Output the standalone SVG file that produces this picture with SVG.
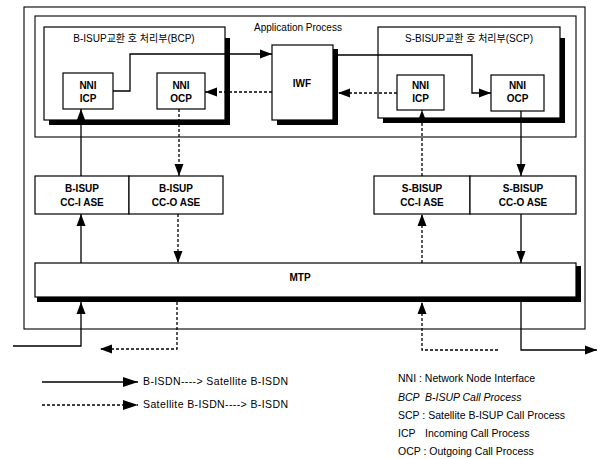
<svg xmlns="http://www.w3.org/2000/svg" width="607" height="459" viewBox="0 0 607 459">
<defs>
<marker id="ah" markerUnits="userSpaceOnUse" markerWidth="12" markerHeight="10" refX="12" refY="5" orient="auto"><path d="M0,0.5 L12,5 L0,9.5 z" fill="#000"/></marker>
<marker id="ahl" markerUnits="userSpaceOnUse" markerWidth="15" markerHeight="10" refX="15" refY="5" orient="auto"><path d="M0,0 L15,5 L0,10 z" fill="#000"/></marker>
</defs>
<style>
.box{fill:#fff;stroke:#000;stroke-width:1.2}
.sh{fill:#000}
.frame{fill:none;stroke:#000;stroke-width:1.1}
.t{font-family:"Liberation Sans","Noto Sans CJK KR",sans-serif;font-size:10px;fill:#000}
.s{font-size:10.5px}
.b{font-weight:bold}
.c{text-anchor:middle}
.i{font-style:italic}
.ln{fill:none;stroke:#000;stroke-width:1.3;marker-end:url(#ah)}
.lg{fill:none;stroke:#000;stroke-width:1.3;marker-end:url(#ahl)}
.d{stroke-dasharray:3,2}
</style>
<rect x="0" y="0" width="607" height="459" fill="#fff"/>
<g id="frames">
<rect class="frame" x="24" y="7" width="561" height="322"/>
<rect class="frame" x="35" y="16" width="541" height="121"/>
<text class="t c" x="298" y="31">Application Process</text>
</g>
<g id="bcp">
<path class="sh" d="M225,38 H230 V125 H49 V120 H225 Z"/>
<rect class="box" x="44" y="27" width="181" height="93"/>
<text class="t c" x="134" y="42">B-ISUP교환 호 처리부(BCP)</text>
</g>
<g id="bcp-icp">
<rect class="box" x="63" y="73" width="50" height="36"/>
<text class="t c b" x="88" y="89">NNI</text>
<text class="t c b" x="88" y="102">ICP</text>
</g>
<g id="bcp-ocp">
<rect class="box" x="157" y="73" width="48" height="36"/>
<text class="t c b" x="181" y="89">NNI</text>
<text class="t c b" x="181" y="102">OCP</text>
</g>
<g id="iwf">
<path class="sh" d="M333,49 H338 V125 H277 V120 H333 Z"/>
<rect class="box" x="272" y="45" width="61" height="75"/>
<text class="t c b" x="302" y="87">IWF</text>
</g>
<g id="scp">
<path class="sh" d="M560,38 H565 V123 H383 V118 H560 Z"/>
<rect class="box" x="378" y="27" width="182" height="91"/>
<text class="t c" x="469" y="42">S-BISUP교환 호 처리부(SCP)</text>
</g>
<g id="scp-icp">
<rect class="box" x="397" y="75" width="47" height="35"/>
<text class="t c b" x="420.5" y="89">NNI</text>
<text class="t c b" x="420.5" y="102">ICP</text>
</g>
<g id="scp-ocp">
<rect class="box" x="491" y="75" width="53" height="36"/>
<text class="t c b" x="517.5" y="89">NNI</text>
<text class="t c b" x="517.5" y="102">OCP</text>
</g>
<g id="b-cci">
<rect class="box" x="35" y="176" width="94" height="38"/>
<text class="t c b" x="82" y="192">B-ISUP</text>
<text class="t c b" x="82" y="206">CC-I ASE</text>
</g>
<g id="b-cco">
<rect class="box" x="129" y="176" width="94" height="38"/>
<text class="t c b" x="176" y="192">B-ISUP</text>
<text class="t c b" x="176" y="206">CC-O ASE</text>
</g>
<g id="s-cci">
<rect class="box" x="374" y="176" width="96" height="38"/>
<text class="t c b" x="422" y="192">S-BISUP</text>
<text class="t c b" x="422" y="206">CC-I ASE</text>
</g>
<g id="s-cco">
<rect class="box" x="470" y="176" width="106" height="38"/>
<text class="t c b" x="523" y="192">S-BISUP</text>
<text class="t c b" x="523" y="206">CC-O ASE</text>
</g>
<g id="mtp">
<path class="sh" d="M576,266 H581 V302 H37 V297 H576 Z"/>
<rect class="box" x="35" y="263" width="541" height="34"/>
<text class="t c b" x="300" y="281">MTP</text>
</g>
<g id="connectors">
<path class="ln" d="M113,91 H130 V54 H272"/>
<path class="ln" d="M338,55 H472 V93 H491"/>
<path class="ln d" d="M397,93 H338"/>
<path class="ln d" d="M272,92 H205"/>
<path class="ln d" d="M179,109 V176"/>
<path class="ln" d="M81,176 V109"/>
<path class="ln d" d="M422,176 V110"/>
<path class="ln" d="M521,111 V176"/>
<path class="ln" d="M81,263 V214"/>
<path class="ln d" d="M178,214 V263"/>
<path class="ln d" d="M422,263 V214"/>
<path class="ln" d="M521,214 V263"/>
<path class="ln" d="M13,346 H81 V302"/>
<path class="ln d" d="M177,302 V349 H100"/>
<path class="ln d" d="M498,350 H422 V302"/>
<path class="ln" d="M521,302 V350 H597"/>
</g>
<g id="legend">
<path class="lg" d="M42,382 H138"/>
<path class="lg d" d="M42,405 H138"/>
<text class="t s" x="143" y="385" textLength="145" lengthAdjust="spacing">B-ISDN----&gt; Satellite B-ISDN</text>
<text class="t s" x="143" y="408" textLength="145" lengthAdjust="spacing">Satellite B-ISDN----&gt; B-ISDN</text>
<text class="t s" x="398" y="382">NNI : Network Node Interface</text>
<text class="t s i" x="398" y="401">BCP<tspan x="425">B-ISUP Call Process</tspan></text>
<text class="t s" x="398" y="419">SCP : Satellite B-ISUP Call Process</text>
<text class="t s" x="398" y="437">ICP<tspan x="425">Incoming Call Process</tspan></text>
<text class="t s" x="398" y="455">OCP : Outgoing Call Process</text>
</g>
</svg>
